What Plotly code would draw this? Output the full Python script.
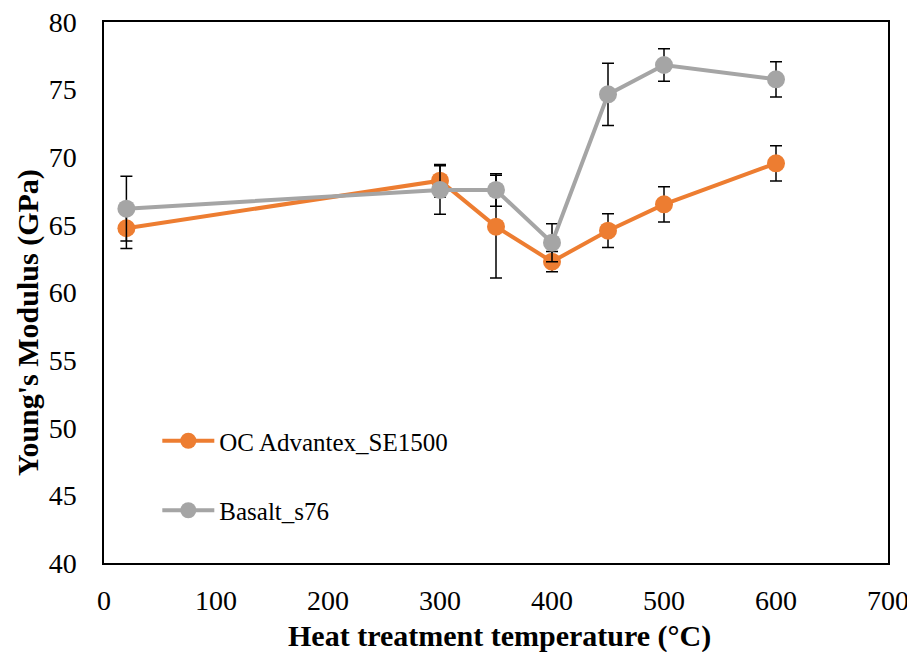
import plotly.graph_objects as go

temps = [20, 300, 350, 400, 450, 500, 600]
oc_modulus = [64.75, 68.27, 64.87, 62.28, 64.57, 66.52, 69.55]
oc_err = [1.5, 1.2, 3.8, 0.75, 1.25, 1.3, 1.3]
basalt_modulus = [66.2, 67.58, 67.58, 63.68, 74.65, 76.82, 75.76]
basalt_err = [2.4, 1.8, 1.2, 1.4, 2.3, 1.2, 1.3]

x_ticks = [0, 100, 200, 300, 400, 500, 600, 700]
y_ticks = [40, 45, 50, 55, 60, 65, 70, 75, 80]

x_title = "<b>Heat treatment temperature (°C)</b>"
y_title = "<b>Young's Modulus (GPa)</b>"

FONT = "Liberation Serif, Times New Roman, serif"

fig = go.Figure()
fig.add_trace(go.Scatter(
    x=temps, y=oc_modulus, name="OC Advantex_SE1500", mode="lines+markers",
    line=dict(color="#ED7D31", width=4),
    marker=dict(color="#ED7D31", size=18),
    error_y=dict(type="data", array=oc_err, color="black", thickness=1.5, width=6),
    legendgroup="a",
))
fig.add_trace(go.Scatter(
    x=temps, y=basalt_modulus, name="Basalt_s76", mode="lines+markers",
    line=dict(color="#A5A5A5", width=4),
    marker=dict(color="#A5A5A5", size=18),
    error_y=dict(type="data", array=basalt_err, color="black", thickness=1.5, width=6),
    legendgroup="b",
))

# page body has an 8px default margin; compensate so the plot lands where the reference has it
fig.update_layout(
    width=907, height=644,
    paper_bgcolor="white", plot_bgcolor="white",
    margin=dict(l=96, r=27, t=14, b=89),
    font=dict(family=FONT, size=28, color="black"),
    showlegend=True,
    legend=dict(
        x=0.068, y=0.268, xanchor="left", yanchor="top",
        font=dict(family=FONT, size=25, color="black"),
        bgcolor="rgba(0,0,0,0)", tracegroupgap=34, itemwidth=52,
    ),
    xaxis=dict(
        range=[0, 700], tickvals=x_ticks, ticks="", showgrid=False, zeroline=False,
        showline=True, linecolor="black", linewidth=1.5, mirror=True,
        tickfont=dict(family=FONT, size=28), automargin=False, ticklabelstandoff=12,
        ticklabeloverflow="allow",
    ),
    yaxis=dict(
        range=[40, 80], tickvals=y_ticks, ticks="", showgrid=False, zeroline=False,
        showline=True, linecolor="black", linewidth=1.5, mirror=True,
        tickfont=dict(family=FONT, size=28), automargin=False, ticklabelstandoff=20,
        ticklabeloverflow="allow",
    ),
    annotations=[
        dict(text=x_title, xref="paper", yref="paper", x=0.505, y=-0.135,
             xanchor="center", yanchor="middle", showarrow=False,
             font=dict(family=FONT, size=30, color="black")),
        dict(text=y_title, xref="paper", yref="paper", x=-0.097, y=0.4455,
             xanchor="center", yanchor="middle", showarrow=False, textangle=-90,
             font=dict(family=FONT, size=30, color="black")),
    ],
)

fig.write_html("out.html")
